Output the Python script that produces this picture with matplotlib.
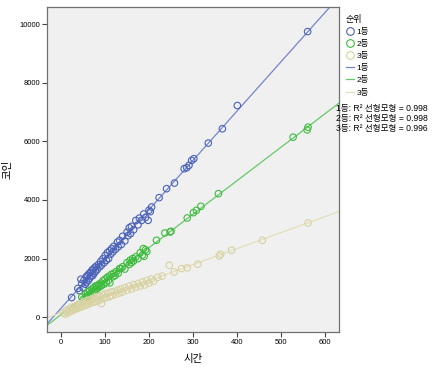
import numpy as np
import matplotlib
matplotlib.use('Agg')
import matplotlib.pyplot as plt
from matplotlib.lines import Line2D

plt.rcParams['font.family'] = ['Liberation Sans', 'Noto Sans CJK KR']

# 1등 (time, coins)
x1 = [24, 38, 42, 45, 47, 50, 52, 55, 57, 58, 60, 62, 63, 65, 66, 68, 70, 72, 73, 75,
      77, 78, 80, 82, 85, 88, 90, 92, 95, 98, 100, 103, 105, 108, 110, 113, 115, 118, 120, 124,
      128, 130, 133, 137, 140, 145, 150, 152, 155, 158, 160, 165, 170, 175, 178, 183, 188, 192, 198, 200,
      203, 206, 223, 240, 258, 280, 286, 291, 297, 302, 335, 367, 401, 561]
y1 = [670, 980, 900, 1295, 1150, 1000, 1260, 1120, 1380, 1200, 1420, 1250, 1480, 1330, 1520, 1400, 1600, 1420, 1640, 1500,
      1700, 1560, 1740, 1620, 1800, 1720, 1900, 1780, 1990, 1860, 2100, 1940, 2200, 2000, 2260, 2150, 2340, 2230, 2420, 2320,
      2560, 2400, 2620, 2480, 2760, 2600, 2900, 2780, 3050, 2850, 3100, 2980, 3300, 3150, 3380, 3300, 3520, 3400, 3305, 3650,
      3600, 3759, 4078, 4384, 4576, 5066, 5100, 5179, 5349, 5406, 5940, 6429, 7223, 9744]

# 2등
x2 = [47, 50, 55, 58, 60, 62, 65, 67, 70, 72, 74, 76, 78, 80, 82, 84, 86, 88, 90, 92,
      95, 97, 100, 103, 105, 108, 110, 111, 114, 118, 120, 123, 126, 130, 133, 136, 140, 145, 150, 155,
      157, 160, 163, 165, 170, 175, 180, 185, 187, 189, 192, 195, 217, 236, 248, 250, 287, 301, 308, 318,
      358, 528, 560, 562]
y2 = [692, 600, 780, 700, 860, 740, 900, 800, 960, 860, 1000, 880, 1060, 950, 1080, 1000, 1120, 1040, 1160, 1080,
      1240, 1120, 1300, 1180, 1360, 1260, 1400, 1170, 1460, 1380, 1500, 1420, 1560, 1500, 1660, 1659, 1720, 1640, 1860, 1800,
      1942, 1860, 2000, 1920, 2060, 2000, 2200, 2120, 2340, 2078, 2300, 2240, 2624, 2873, 2907, 2930, 3384, 3567, 3646, 3782,
      4214, 6143, 6390, 6484]

# 3등
x3 = [5, 9, 12, 15, 18, 20, 22, 25, 28, 30, 33, 35, 38, 40, 42, 45, 48, 50, 52, 55,
      58, 60, 63, 65, 68, 70, 73, 75, 78, 80, 83, 85, 88, 90, 92, 95, 98, 100, 103, 106,
      110, 113, 116, 120, 124, 128, 132, 136, 140, 145, 150, 155, 160, 165, 170, 175, 180, 185, 190, 195,
      200, 205, 210, 220, 230, 246, 257, 274, 287, 311, 360, 363, 388, 458, 562]
y3 = [150, 100, 230, 150, 280, 190, 310, 220, 350, 260, 390, 290, 420, 320, 450, 350, 490, 380, 520, 400,
      560, 430, 580, 470, 600, 500, 640, 510, 680, 540, 700, 580, 720, 600, 466, 760, 640, 800, 680, 820,
      700, 860, 740, 880, 780, 920, 820, 960, 860, 1010, 920, 1060, 960, 1110, 1020, 1150, 1060, 1200, 1100, 1250,
      1160, 1300, 1220, 1360, 1400, 1772, 1543, 1659, 1680, 1806, 2089, 2146, 2283, 2623, 3213]

labels = ['1등', '2등', '3등']
r2_values = ['0.998', '0.998', '0.996']
marker_colors = ['#4A62B8', '#3DBB3D', '#D8D2A2']
line_colors = ['#7385CE', '#66C866', '#E3DEBB']

fig = plt.figure(figsize=(4.4, 3.74), dpi=100)
ax = fig.add_axes([0.107, 0.112, 0.663, 0.869])
ax.set_facecolor('#F0F0F0')

xlim = (-32, 632)
xx = np.array(xlim)
for xs, ys, mc, lc in zip([x1, x2, x3], [y1, y2, y3], marker_colors, line_colors):
    ax.scatter(xs, ys, s=22, facecolors='none', edgecolors=mc, linewidths=0.8, zorder=3)
    k, b = np.polyfit(xs, ys, 1)
    ax.plot(xx, k * xx + b, color=lc, lw=0.9, zorder=2)

ax.set_xlim(*xlim)
ax.set_ylim(-510, 10580)
ax.set_xticks([0, 100, 200, 300, 400, 500, 600])
ax.set_yticks([0, 2000, 4000, 6000, 8000, 10000])
ax.tick_params(labelsize=5.5, length=3.5, width=0.8, color='#444444', pad=1.5)
for s in ax.spines.values():
    s.set_color('#707070')
    s.set_linewidth(0.9)

ax.set_xlabel('시간', fontsize=7.5, labelpad=6)
ax.set_ylabel('코인', fontsize=7.5)
ax.yaxis.set_label_coords(-0.12, 0.5)

# legend outside on the right
handles = []
names = []
for lab, mc in zip(labels, marker_colors):
    handles.append(Line2D([], [], ls='none', marker='o', markersize=5.5,
                          markerfacecolor='none', markeredgecolor=mc, markeredgewidth=0.8))
    names.append(lab)
for lab, lc in zip(labels, line_colors):
    handles.append(Line2D([], [], color=lc, lw=0.9))
    names.append(lab)
leg = fig.legend(handles, names, title='순위', loc='upper left',
                 bbox_to_anchor=(0.778, 0.97), frameon=False, fontsize=6,
                 title_fontsize=6.5, handlelength=1.0, handletextpad=0.3,
                 labelspacing=0.5, borderaxespad=0, alignment='left')

for i, (lab, r2) in enumerate(zip(labels, r2_values)):
    fig.text(336 / 440, 1 - (108 + 10 * i) / 374, f'{lab}: R² 선형모형 = {r2}',
             fontsize=6.2, va='center', ha='left')

fig.savefig('out.png', dpi=100)
